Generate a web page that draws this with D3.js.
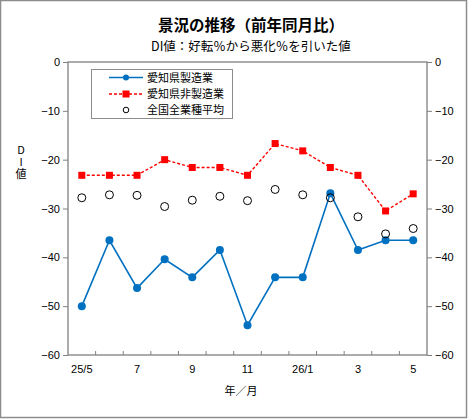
<!DOCTYPE html>
<html>
<head>
<meta charset="utf-8">
<script src="https://cdn.jsdelivr.net/npm/d3@7"></script>
<style>
  body { margin: 0; background: #fff; }
  text { font-family: "Noto Sans CJK JP", "Noto Sans", sans-serif; }
</style>
</head>
<body>
<div id="chart"></div>
<script>
const months = ['25/5', '6', '7', '8', '9', '10', '11', '12', '26/1', '2', '3', '4', '5'];
const tickLabels = ['25/5', '7', '9', '11', '26/1', '3', '5'];
const aichiMfg = [-50.0, -36.5, -46.3, -40.4, -44.1, -38.5, -53.9, -44.1, -44.1, -26.9, -38.5, -36.5, -36.5];
const aichiNonMfg = [-23.2, -23.2, -23.2, -20.0, -21.6, -21.6, -23.2, -16.7, -18.2, -21.6, -23.2, -30.5, -27.0];
const nationalAvg = [-27.8, -27.2, -27.3, -29.6, -28.3, -27.5, -28.4, -26.1, -27.2, -27.8, -31.7, -35.2, -34.1];
const yTicks = [0, -10, -20, -30, -40, -50, -60];

const width = 468, height = 419;
const margin = {top: 62, right: 41, bottom: 64, left: 68};
const plotW = width - margin.left - margin.right;
const plotH = height - margin.top - margin.bottom;

const svg = d3.select('#chart').append('svg')
    .attr('width', width)
    .attr('height', height);

// outer frame
svg.append('rect')
    .attr('x', 0.5).attr('y', 0.5)
    .attr('width', width - 2).attr('height', height - 2)
    .attr('fill', 'none').attr('stroke', '#8c8c8c').attr('stroke-width', 1.5);

// titles
svg.append('text')
    .attr('x', 251).attr('y', 31)
    .attr('text-anchor', 'middle')
    .attr('font-size', '15.5px').attr('font-weight', 'bold')
    .text('景況の推移（前年同月比）');
svg.append('text')
    .attr('x', 251).attr('y', 51)
    .attr('text-anchor', 'middle')
    .attr('font-size', '12.5px')
    .text('DI値：好転％から悪化％を引いた値');

const g = svg.append('g').attr('transform', `translate(${margin.left},${margin.top})`);

const x = d3.scaleBand().domain(months).range([0, plotW]);
const y = d3.scaleLinear().domain([-60, 0]).range([plotH, 0]);
const cx = d => x(d) + x.bandwidth() / 2;

// plot frame
g.append('rect')
    .attr('width', plotW).attr('height', plotH)
    .attr('fill', 'none').attr('stroke', '#808080').attr('stroke-width', 1.3);

// left / right axes
const fmt = v => v === 0 ? '0' : '\u2212' + Math.abs(v);
const leftAxis = d3.axisLeft(y).tickValues(yTicks).tickSize(5).tickFormat(fmt);
const rightAxis = d3.axisRight(y).tickValues(yTicks).tickSize(5).tickFormat(fmt);
[g.append('g').call(leftAxis), g.append('g').attr('transform', `translate(${plotW},0)`).call(rightAxis)]
    .forEach(a => {
        a.select('.domain').remove();
        a.selectAll('line').attr('stroke', '#808080');
        a.selectAll('text').attr('font-size', '11px').attr('fill', '#000')
            .style('font-family', 'Arial, "Liberation Sans", sans-serif');
    });

// bottom ticks between categories (pointing up into plot)
g.append('g').selectAll('line')
    .data(months.slice(1))
    .enter().append('line')
    .attr('x1', d => x(d)).attr('x2', d => x(d))
    .attr('y1', plotH).attr('y2', plotH - 4)
    .attr('stroke', '#808080');

// x labels
g.append('g').selectAll('text')
    .data(tickLabels)
    .enter().append('text')
    .attr('x', d => cx(d))
    .attr('y', plotH + 18)
    .attr('text-anchor', 'middle')
    .attr('font-size', '11px')
    .style('font-family', 'Arial, "Liberation Sans", sans-serif')
    .text(d => d);

// axis titles
svg.append('text')
    .attr('x', 241).attr('y', 395)
    .attr('text-anchor', 'middle')
    .attr('font-size', '11px')
    .text('年／月');
svg.append('text')
    .attr('x', 21).attr('y', 144)
    .attr('font-size', '11px')
    .style('writing-mode', 'vertical-rl')
    .style('text-orientation', 'upright')
    .style('letter-spacing', '1px')
    .text('DI値');

// series lines
const line = d3.line().x((d, i) => cx(months[i])).y(d => y(d));
g.append('path').datum(aichiMfg)
    .attr('d', line).attr('fill', 'none')
    .attr('stroke', '#0070C0').attr('stroke-width', 1.6);
g.append('path').datum(aichiNonMfg)
    .attr('d', line).attr('fill', 'none')
    .attr('stroke', '#FF0000').attr('stroke-width', 1.4)
    .attr('stroke-dasharray', '3,2');

g.selectAll('.mfg').data(aichiMfg).enter().append('circle')
    .attr('cx', (d, i) => cx(months[i])).attr('cy', d => y(d))
    .attr('r', 4).attr('fill', '#0070C0');
g.selectAll('.nonmfg').data(aichiNonMfg).enter().append('rect')
    .attr('x', (d, i) => cx(months[i]) - 3.5).attr('y', d => y(d) - 3.5)
    .attr('width', 7).attr('height', 7).attr('fill', '#FF0000');
g.selectAll('.nat').data(nationalAvg).enter().append('circle')
    .attr('cx', (d, i) => cx(months[i])).attr('cy', d => y(d))
    .attr('r', 4).attr('fill', 'none')
    .attr('stroke', '#000').attr('stroke-width', 1);

// legend
const lg = svg.append('g');
lg.append('rect')
    .attr('x', 91.5).attr('y', 69.5).attr('width', 141).attr('height', 49)
    .attr('fill', '#fff').attr('stroke', '#8c8c8c');
const rows = [77.5, 94, 110];
lg.append('line').attr('x1', 109).attr('x2', 143).attr('y1', rows[0]).attr('y2', rows[0])
    .attr('stroke', '#0070C0').attr('stroke-width', 1.6);
lg.append('circle').attr('cx', 126).attr('cy', rows[0]).attr('r', 3).attr('fill', '#0070C0');
lg.append('line').attr('x1', 109).attr('x2', 143).attr('y1', rows[1]).attr('y2', rows[1])
    .attr('stroke', '#FF0000').attr('stroke-width', 1.4).attr('stroke-dasharray', '3,2');
lg.append('rect').attr('x', 122.5).attr('y', rows[1] - 3.5).attr('width', 7).attr('height', 7).attr('fill', '#FF0000');
lg.append('circle').attr('cx', 126).attr('cy', rows[2]).attr('r', 2.8)
    .attr('fill', 'none').attr('stroke', '#000');
['愛知県製造業', '愛知県非製造業', '全国全業種平均'].forEach((t, i) => {
    lg.append('text').attr('x', 147).attr('y', rows[i] + 4)
        .attr('font-size', '11px').text(t);
});
</script>
</body>
</html>
